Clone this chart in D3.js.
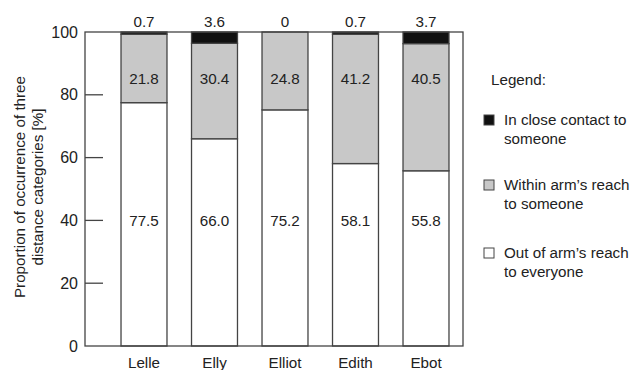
<!DOCTYPE html>
<html><head><meta charset="utf-8">
<script src="https://cdn.jsdelivr.net/npm/d3@7"></script>
<style>body{margin:0;background:#fff}text{font-family:"Liberation Sans",Arial,sans-serif;fill:#222}</style>
</head><body><svg id="c" width="632" height="370"></svg>
<script>
const categories = ["Lelle","Elly","Elliot","Edith","Ebot"];
const outOfReach = [77.5,66.0,75.2,58.1,55.8];
const withinReach = [21.8,30.4,24.8,41.2,40.5];
const closeContact = [0.7,3.6,0,0.7,3.7];
const yTicks = [0,20,40,60,80,100];
const seriesNames = ["In close contact to|someone","Within arm\u2019s reach|to someone","Out of arm\u2019s reach|to everyone"];

const svg = d3.select("#c");
const fs = 15.2;
const L=85,R=463,T=32,B=346;
const y = d3.scaleLinear().domain([0,100]).range([B,T]);
const x = d3.scaleBand().domain(categories).range([108.75,461.25]).paddingInner(0.348).paddingOuter(0.174);
const stroke="#444";
const colors={out:"#ffffff",within:"#c8c8c8",close:"#111111"};

// bars
categories.forEach((c,i)=>{
  const segs=[
    {v0:0,v1:outOfReach[i],fill:colors.out},
    {v0:outOfReach[i],v1:outOfReach[i]+withinReach[i],fill:colors.within},
    {v0:outOfReach[i]+withinReach[i],v1:Math.min(100,outOfReach[i]+withinReach[i]+closeContact[i]),fill:colors.close}
  ];
  segs.forEach(s=>{
    if(s.v1-s.v0<=0) return;
    svg.append("rect").attr("x",x(c)).attr("width",x.bandwidth())
      .attr("y",y(s.v1)).attr("height",y(s.v0)-y(s.v1))
      .attr("fill",s.fill).attr("stroke",stroke).attr("stroke-width",1.3);
  });
  svg.append("text").attr("x",x(c)+x.bandwidth()/2).attr("y",y(40)).attr("dy","0.35em")
    .attr("text-anchor","middle").attr("font-size",fs).text(outOfReach[i].toFixed(1));
  svg.append("text").attr("x",x(c)+x.bandwidth()/2).attr("y",y(85)).attr("dy","0.35em")
    .attr("text-anchor","middle").attr("font-size",fs).text(withinReach[i].toFixed(1));
  svg.append("text").attr("x",x(c)+x.bandwidth()/2).attr("y",T-10).attr("dy","0.35em")
    .attr("text-anchor","middle").attr("font-size",fs).text(closeContact[i]===0?"0":closeContact[i].toFixed(1));
});

// frame
svg.append("rect").attr("x",L).attr("y",T).attr("width",R-L).attr("height",B-T)
  .attr("fill","none").attr("stroke",stroke).attr("stroke-width",1.3);

// y axis
const ya = svg.append("g").attr("transform",`translate(${L},0)`)
  .call(d3.axisLeft(y).tickValues(yTicks).tickSize(0).tickPadding(7));
ya.select(".domain").remove();
ya.selectAll("text").attr("font-size",fs+0.8).attr("font-family","Liberation Sans, Arial, sans-serif").attr("fill","#222");
yTicks.filter(t=>t>0&&t<100).forEach(t=>{
  svg.append("line").attr("x1",L).attr("x2",L+18).attr("y1",y(t)).attr("y2",y(t)).attr("stroke",stroke).attr("stroke-width",1.3);
});

// x axis labels
const xa = svg.append("g").attr("transform",`translate(0,${B})`)
  .call(d3.axisBottom(x).tickSize(0).tickPadding(11));
xa.select(".domain").remove();
xa.selectAll("text").attr("font-size",fs).attr("font-family","Liberation Sans, Arial, sans-serif").attr("fill","#222");

// y title
const yt = svg.append("text").attr("transform","translate(20,187) rotate(-90)").attr("text-anchor","middle").attr("font-size",fs);
yt.append("tspan").attr("x",0).attr("dy","0.35em").text("Proportion of occurrence of three");
yt.append("tspan").attr("x",0).attr("dy","1.15em").text("distance categories [%]");

// legend
svg.append("text").attr("x",491).attr("y",80).attr("dy","0.35em").attr("font-size",fs).text("Legend:");
const legY=[120,185,253];
const legFill=[colors.close,colors.within,colors.out];
seriesNames.forEach((n,i)=>{
  svg.append("rect").attr("x",484).attr("y",legY[i]-5).attr("width",10).attr("height",10)
    .attr("fill",legFill[i]).attr("stroke",stroke).attr("stroke-width",1);
  const parts=n.split("|");
  const t=svg.append("text").attr("x",504).attr("y",legY[i]).attr("font-size",fs);
  parts.forEach((p,j)=>t.append("tspan").attr("x",504).attr("dy",j===0?"0.35em":"1.25em").text(p));
});
</script></body></html>
